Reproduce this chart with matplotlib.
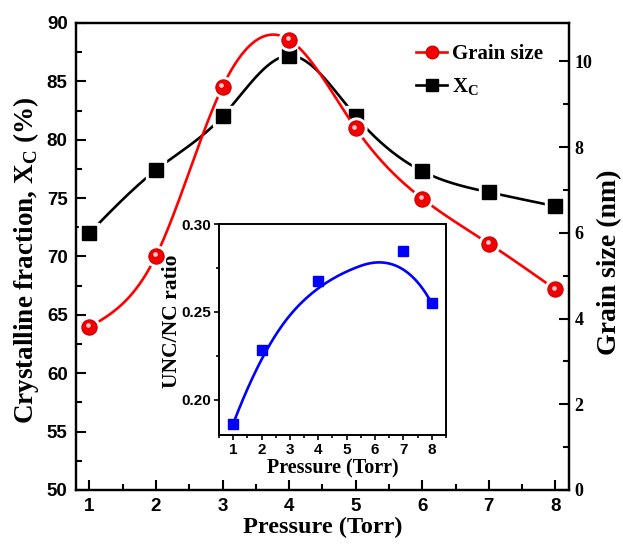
import numpy as np
import matplotlib
matplotlib.use("Agg")
import matplotlib.pyplot as plt
from matplotlib.ticker import MultipleLocator, FormatStrFormatter
from matplotlib.lines import Line2D
import matplotlib.transforms as mtransforms

# ---- data ----
pressure = [1, 2, 3, 4, 5, 6, 7, 8]
xc_percent = [72.0, 77.4, 82.0, 87.2, 82.0, 77.3, 75.5, 74.3]
grain_size_nm = [3.80, 5.46, 9.41, 10.51, 8.44, 6.80, 5.75, 4.68]

inset_pressure = [1, 2, 4, 7, 8]
unc_nc_ratio = [0.1864, 0.2286, 0.2676, 0.2849, 0.2548]

SANS = "Liberation Sans"
SERIF = "Liberation Serif"


def natural_spline(x, y, xs):
    """Natural cubic spline through (x, y), evaluated at xs."""
    x = np.asarray(x, float)
    y = np.asarray(y, float)
    n = len(x)
    h = np.diff(x)
    A = np.zeros((n, n))
    b = np.zeros(n)
    A[0, 0] = A[-1, -1] = 1.0
    for i in range(1, n - 1):
        A[i, i - 1] = h[i - 1]
        A[i, i] = 2 * (h[i - 1] + h[i])
        A[i, i + 1] = h[i]
        b[i] = 3 * ((y[i + 1] - y[i]) / h[i] - (y[i] - y[i - 1]) / h[i - 1])
    c = np.linalg.solve(A, b)
    out = np.empty_like(xs, dtype=float)
    for k, xv in enumerate(xs):
        i = min(max(np.searchsorted(x, xv) - 1, 0), n - 2)
        dx = xv - x[i]
        bi = (y[i + 1] - y[i]) / h[i] - h[i] * (2 * c[i] + c[i + 1]) / 3
        di = (c[i + 1] - c[i]) / (3 * h[i])
        out[k] = y[i] + bi * dx + c[i] * dx ** 2 + di * dx ** 3
    return out


def bspline_curve(px, py, degree=2, num=300):
    """Clamped uniform B-spline using the points as control polygon."""
    P = np.column_stack([px, py]).astype(float)
    n = len(P)
    k = degree
    inner = np.linspace(0, 1, n - k + 1)
    t = np.concatenate([np.zeros(k), inner, np.ones(k)])
    u = np.linspace(0, 1, num)
    u[-1] -= 1e-9
    N = np.zeros((num, len(t) - 1))
    for i in range(len(t) - 1):
        N[:, i] = (u >= t[i]) & (u < t[i + 1])
    for p in range(1, k + 1):
        Nn = np.zeros((num, len(t) - 1 - p))
        for i in range(len(t) - 1 - p):
            d1 = t[i + p] - t[i]
            d2 = t[i + p + 1] - t[i + 1]
            a = (u - t[i]) / d1 * N[:, i] if d1 > 0 else 0
            b = (t[i + p + 1] - u) / d2 * N[:, i + 1] if d2 > 0 else 0
            Nn[:, i] = a + b
        N = Nn
    C = N @ P
    return C[:, 0], C[:, 1]


fig = plt.figure(figsize=(6.23, 5.46), dpi=100)
ax = fig.add_axes([0.122, 0.1026, 0.791, 0.8554])
ax2 = ax.twinx()

xs = np.linspace(1, 8, 400)

# crystalline fraction (left axis)
ax.plot(xs, natural_spline(pressure, xc_percent, xs), color="black", lw=1.9, zorder=2)
ax.plot(pressure, xc_percent, ls="none", marker="s", ms=14.5, mfc="white", mec="white", zorder=3)
ax.plot(pressure, xc_percent, ls="none", marker="s", ms=10, mfc="black", mec="black", zorder=4)

# grain size (right axis)
ax2.plot(xs, natural_spline(pressure, grain_size_nm, xs), color="#ff0000", lw=1.9, zorder=2)
ax2.plot(pressure, grain_size_nm, ls="none", marker="o", ms=15, mfc="white", mec="white", zorder=3)
ax2.plot(pressure, grain_size_nm, ls="none", marker="o", ms=11, mfc="#f00000", mec="#d00000",
         mew=0.8, zorder=4)
hl = mtransforms.offset_copy(ax2.transData, fig=fig, x=-1.2, y=1.8, units="dots")
ax2.plot(pressure, grain_size_nm, ls="none", marker="o", ms=3.4, mfc="#ffc8c8", mec="none",
         transform=hl, zorder=5)

ax.set_xlim(0.8, 8.2)
ax.set_ylim(50, 90)
ax2.set_ylim(0, 10.9)

ax.xaxis.set_major_locator(MultipleLocator(1))
ax.xaxis.set_minor_locator(MultipleLocator(0.5))
ax.yaxis.set_major_locator(MultipleLocator(5))
ax.yaxis.set_minor_locator(MultipleLocator(2.5))
ax2.yaxis.set_major_locator(MultipleLocator(2))
ax2.yaxis.set_minor_locator(MultipleLocator(1))

for a in (ax, ax2):
    for s in a.spines.values():
        s.set_linewidth(1.6)

ax.tick_params(which="both", direction="in", top=False, right=False, width=1.5)
ax.tick_params(which="major", length=7)
ax.tick_params(which="minor", length=4)
ax.tick_params(axis="both", which="major", labelsize=13.5, pad=6)
ax2.tick_params(which="both", direction="in", width=1.5)
ax2.tick_params(which="major", length=7, labelsize=13, pad=4)
ax2.tick_params(which="minor", length=4)

for lab in ax.get_xticklabels() + ax.get_yticklabels():
    lab.set_fontfamily(SANS)
    lab.set_fontweight("bold")
for lab in ax2.get_yticklabels():
    lab.set_fontfamily(SERIF)
    lab.set_fontweight("bold")

ax.set_xlabel("Pressure (Torr)", fontfamily=SERIF, fontweight="bold", fontsize=17.5, labelpad=1)
fig.text(0.042, 0.524, r"Crystalline fraction, X$_\mathregular{C}$ (%)", fontfamily=SERIF,
         fontweight="bold", fontsize=19.5, rotation=90, ha="center", va="center")
fig.text(0.978, 0.520, "Grain size (nm)", fontfamily=SERIF, fontweight="bold", fontsize=20,
         rotation=90, ha="center", va="center")

# legend
h_gs = Line2D([], [], color="#ff0000", lw=1.9, marker="o", ms=9, mfc="#f00000", mec="#d00000")
h_xc = Line2D([], [], color="black", lw=1.9, marker="s", ms=8.5, mfc="black", mec="black")
ax.legend([h_gs, h_xc], ["Grain size", r"X$_\mathregular{C}$"], loc="upper right",
          bbox_to_anchor=(0.985, 0.995), frameon=False, handlelength=1.5,
          handletextpad=0.2, labelspacing=0.6,
          prop={"family": SERIF, "weight": "bold", "size": 15})

# ---- inset: UNC/NC ratio ----
ins = fig.add_axes([0.3515, 0.2033, 0.3644, 0.3864])
bx, by = bspline_curve(inset_pressure, unc_nc_ratio)
ins.plot(bx, by, color="#0000ff", lw=1.9)
ins.plot(inset_pressure, unc_nc_ratio, ls="none", marker="s", ms=7.5, mfc="#0000ff", mec="#0000ff")
ins.set_xlim(0.5, 8.5)
ins.set_ylim(0.18, 0.30)
ins.xaxis.set_major_locator(MultipleLocator(1))
ins.xaxis.set_minor_locator(MultipleLocator(0.5))
ins.yaxis.set_major_locator(MultipleLocator(0.05))
ins.yaxis.set_minor_locator(MultipleLocator(0.025))
ins.yaxis.set_major_formatter(FormatStrFormatter("%.2f"))
for s in ins.spines.values():
    s.set_linewidth(1.4)
ins.tick_params(which="both", direction="out", width=1.2)
ins.tick_params(which="major", length=3.5, labelsize=11, pad=2)
ins.tick_params(which="minor", length=2.5)
for lab in ins.get_xticklabels() + ins.get_yticklabels():
    lab.set_fontfamily(SANS)
    lab.set_fontweight("bold")
ins.set_xlabel("Pressure (Torr)", fontfamily=SERIF, fontweight="bold", fontsize=14.5, labelpad=1)
ins.set_ylabel("UNC/NC ratio", fontfamily=SERIF, fontweight="bold", fontsize=15.5)
ins.yaxis.set_label_coords(-0.165, 0.54)

fig.savefig("out.png", dpi=100)
